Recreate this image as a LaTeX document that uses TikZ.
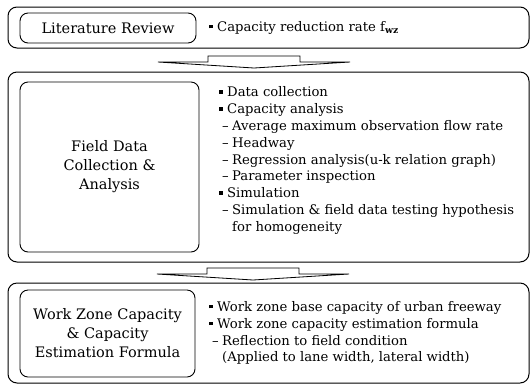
\documentclass[tikz,border=0pt]{standalone}
\usepackage{fontspec}
\setmainfont{DejaVu Serif}
\usetikzlibrary{positioning}

\newcommand{\sqbul}{\makebox[8pt][l]{\rule[0.45ex]{3.5pt}{3.5pt}}}
\newcommand{\subit}{\hspace{3pt}\makebox[10pt][l]{–}}
\newcommand{\contit}{\hspace{13pt}}
\newcommand{\bigdown}[1]{\draw[blockarrow] ([xshift=-46pt]#1) -- ++(92,0) -- ++(0,6) -- ++(50,0) -- ++(-96,6) -- ++(-96,-6) -- ++(50,0) -- cycle;}

\tikzset{
  outerbox/.style={draw, rounded corners=9pt, line width=1pt, inner sep=0pt, minimum width=521pt},
  headbox/.style={draw, rounded corners=8pt, line width=0.9pt, align=center, inner sep=0pt,
    font=\fontsize{14.5}{19}\selectfont},
  listtext/.style={align=left, anchor=west, inner sep=0pt, font=\fontsize{13.2}{16.8}\selectfont},
  blockarrow/.style={draw, line width=0.8pt, fill=white, line join=miter}
}

\begin{document}
\begin{tikzpicture}[x=1pt, y=-1pt]
\useasboundingbox (0,0) rectangle (530,384);

% outer frames
\node[outerbox, minimum height=41pt] (litframe) at (268.5,27.5) {};
\node[outerbox, minimum height=190pt] (fieldframe) at (268.5,167) {};
\node[outerbox, minimum height=100pt] (wzframe) at (268.5,333) {};

% stage titles
\node[headbox, minimum width=176pt, minimum height=30pt] (lit) at (108,28) {Literature Review};
\node[headbox, minimum width=179pt, minimum height=170pt] (field) at (109.5,167) {Field Data\\Collection \&\\Analysis};
\node[headbox, minimum width=175pt, minimum height=87pt] (wz) at (107.5,333.5) {Work Zone Capacity\\\& Capacity\\Estimation Formula};

% contents
\node[listtext] (littext) at (209,28) {\sqbul Capacity reduction rate f\textsubscript{\textbf{wz}}};
\node[listtext] (fieldtext) at (219,160.5) {\sqbul Data collection\\
  \sqbul Capacity analysis\\
  \subit Average maximum observation flow rate\\
  \subit Headway\\
  \subit Regression analysis(u-k relation graph)\\
  \subit Parameter inspection\\
  \sqbul Simulation\\
  \subit Simulation \& field data testing hypothesis\\
  \contit for homogeneity};
\node[listtext] (wztext) at (209,333) {\sqbul Work zone base capacity of urban freeway\\
  \sqbul Work zone capacity estimation formula\\
  \subit Reflection to field condition\\
  \contit (Applied to lane width, lateral width)};

% block arrows
\coordinate (a1) at (254,56);
\coordinate (a2) at (253,268);
\bigdown{a1}
\bigdown{a2}
\end{tikzpicture}
\end{document}
